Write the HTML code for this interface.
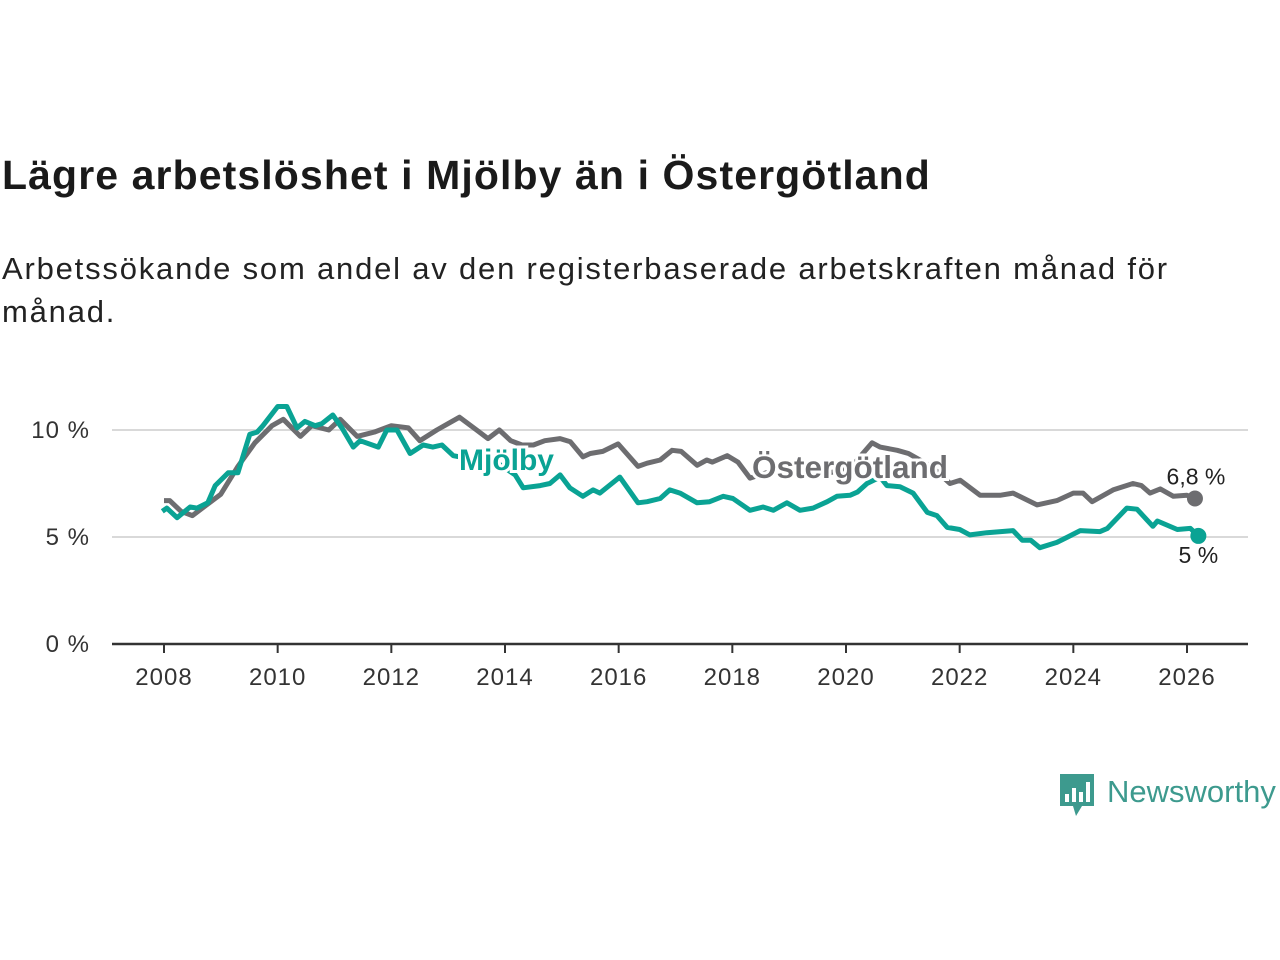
<!DOCTYPE html>
<html><head><meta charset="utf-8">
<style>
body{margin:0;background:#fff;width:1280px;height:960px;overflow:hidden;font-family:"Liberation Sans","DejaVu Sans",sans-serif}
#title{position:absolute;left:2px;top:152px;font-size:41px;font-weight:bold;color:#1a1a1a;margin:0;letter-spacing:1.1px}
#sub{position:absolute;left:2px;top:247px;font-size:31px;color:#222;line-height:43px;width:1260px;margin:0;letter-spacing:1.8px}
svg{position:absolute;left:0;top:0}
</style></head><body>
<h1 id="title">Lägre arbetslöshet i Mjölby än i Östergötland</h1>
<p id="sub">Arbetssökande som andel av den registerbaserade arbetskraften månad för<br>månad.</p>
<svg id="chart" width="1280" height="960"></svg>
<script>
const ostYears=[2008.0,2008.1,2008.3,2008.5,2009.0,2009.3,2009.6,2009.9,2010.1,2010.4,2010.6,2010.9,2011.1,2011.4,2011.7,2012.0,2012.3,2012.5,2012.8,2013.0,2013.2,2013.5,2013.7,2013.9,2014.1,2014.3,2014.5,2014.7,2014.97,2015.15,2015.37,2015.5,2015.72,2015.99,2016.34,2016.5,2016.73,2016.94,2017.1,2017.38,2017.55,2017.65,2017.91,2018.1,2018.31,2018.6,2019.0,2019.6,2020.1,2020.46,2020.6,2020.9,2021.1,2021.5,2021.83,2022.01,2022.36,2022.71,2022.94,2023.36,2023.71,2024.0,2024.17,2024.33,2024.7,2025.05,2025.2,2025.35,2025.53,2025.76,2026.0,2026.14];
const ostVals=[6.7,6.7,6.2,6.0,7.0,8.3,9.4,10.2,10.5,9.7,10.2,10.0,10.5,9.7,9.9,10.2,10.1,9.5,10.0,10.3,10.6,10.0,9.6,10.0,9.5,9.3,9.3,9.5,9.6,9.45,8.75,8.9,9.0,9.35,8.3,8.45,8.6,9.05,9.0,8.35,8.6,8.5,8.8,8.5,7.75,8.0,8.0,7.9,8.3,9.4,9.2,9.05,8.9,8.3,7.5,7.65,6.95,6.95,7.05,6.5,6.7,7.05,7.05,6.65,7.2,7.5,7.4,7.05,7.25,6.9,6.95,6.8];
const mjYears=[2007.97,2008.05,2008.23,2008.46,2008.58,2008.77,2008.9,2009.13,2009.3,2009.51,2009.64,2009.74,2010.0,2010.16,2010.34,2010.48,2010.66,2010.78,2010.97,2011.13,2011.33,2011.45,2011.77,2011.92,2012.1,2012.33,2012.56,2012.73,2012.89,2013.09,2013.5,2013.9,2014.18,2014.32,2014.62,2014.79,2014.97,2015.14,2015.37,2015.55,2015.67,2016.02,2016.34,2016.5,2016.73,2016.9,2017.08,2017.38,2017.6,2017.84,2018.01,2018.31,2018.54,2018.72,2018.96,2019.19,2019.42,2019.67,2019.84,2020.07,2020.2,2020.37,2020.6,2020.72,2020.95,2021.18,2021.43,2021.6,2021.78,2022.0,2022.18,2022.48,2022.94,2023.1,2023.25,2023.41,2023.71,2023.9,2024.12,2024.47,2024.6,2024.94,2025.12,2025.4,2025.48,2025.83,2026.06,2026.2];
const mjVals=[6.2,6.35,5.9,6.4,6.35,6.6,7.4,8.0,8.0,9.8,9.9,10.2,11.1,11.1,10.1,10.4,10.2,10.3,10.7,10.1,9.2,9.5,9.2,10.0,10.0,8.9,9.3,9.2,9.3,8.8,8.6,8.4,7.9,7.3,7.4,7.5,7.9,7.3,6.9,7.2,7.05,7.8,6.6,6.65,6.8,7.2,7.05,6.6,6.65,6.9,6.8,6.25,6.4,6.25,6.6,6.25,6.35,6.65,6.9,6.95,7.1,7.5,7.8,7.4,7.35,7.05,6.15,6.0,5.45,5.35,5.1,5.2,5.3,4.85,4.85,4.5,4.75,5.0,5.3,5.25,5.4,6.35,6.3,5.5,5.75,5.35,5.4,5.05];
const yTicks=[0,5,10];
const yTickLabels=["0 %","5 %","10 %"];
const xTicks=[2008,2010,2012,2014,2016,2018,2020,2022,2024,2026];
const NS="http://www.w3.org/2000/svg";
const svg=document.getElementById('chart');
const X=y=>164+(y-2008)*(1187-164)/18;
const Y=v=>644-v*21.4;
function mk(t,a){const e=document.createElementNS(NS,t);for(const k in a)e.setAttribute(k,a[k]);svg.appendChild(e);return e;}
yTicks.forEach((v,i)=>{
  if(v>0){const g=mk('line',{x1:112,x2:1248,y1:Y(v),y2:Y(v),stroke:'#d9d9d9','stroke-width':2});
  
  }
  const t=mk('text',{x:90,y:Y(v)+8,'text-anchor':'end','font-size':24,'letter-spacing':1,fill:'#333'});
  t.textContent=yTickLabels[i];
  
  
});
const ax=mk('line',{x1:112,x2:1248,y1:644,y2:644,stroke:'#333','stroke-width':2.5});


xTicks.forEach(yr=>{
  const tk=mk('line',{x1:X(yr),x2:X(yr),y1:644,y2:653,stroke:'#333','stroke-width':2});
  
  
  const t=mk('text',{x:X(yr),y:685,'text-anchor':'middle','font-size':24,'letter-spacing':1,fill:'#333'});
  t.textContent=yr;
  
  
});
function path(ys,vs){return ys.map((y,i)=>(i?'L':'M')+X(y).toFixed(1)+' '+Y(vs[i]).toFixed(1)).join(' ');}
const l1=mk('path',{d:path(ostYears,ostVals),fill:'none',stroke:'#6d6d70','stroke-width':5,'stroke-linejoin':'round'});


const l2=mk('path',{d:path(mjYears,mjVals),fill:'none',stroke:'#0aa394','stroke-width':5,'stroke-linejoin':'round'});


const oe=ostYears.length-1, me=mjYears.length-1;
const d1=mk('circle',{cx:X(ostYears[oe]),cy:Y(ostVals[oe]),r:8,fill:'#6d6d70'});


const d2=mk('circle',{cx:X(mjYears[me]),cy:Y(mjVals[me]),r:8,fill:'#0aa394'});


const e1=mk('text',{x:X(ostYears[oe])+1,y:Y(ostVals[oe])-14,'text-anchor':'middle','font-size':23,fill:'#222'});
e1.textContent=String(ostVals[oe]).replace('.',',')+' %';


const e2=mk('text',{x:X(mjYears[me]),y:Y(mjVals[me])+27,'text-anchor':'middle','font-size':23,fill:'#222'});
e2.textContent='5 %';


const s1=mk('text',{x:459,y:470,'font-size':30,'font-weight':'bold',fill:'#0aa394',stroke:'#fff','stroke-width':6,'paint-order':'stroke'});
s1.textContent='Mjölby';


const s2=mk('text',{x:752,y:478,'font-size':31.5,'font-weight':'bold',fill:'#6d6d70',stroke:'#fff','stroke-width':6,'paint-order':'stroke'});
s2.textContent='Östergötland';


</script>
<div style="position:absolute;left:1060px;top:774px;display:flex;align-items:center">
<svg width="36" height="44" viewBox="0 0 36 44" style="position:static"><path d="M0 0H34V32H22L16 42L13 32H0Z" fill="#3d9a8e"/><rect x="5" y="20" width="4" height="8" fill="#fff"/><rect x="12" y="14" width="4" height="14" fill="#fff"/><rect x="19" y="18" width="4" height="10" fill="#fff"/><rect x="26" y="8" width="4" height="20" fill="#fff"/></svg>
<span style="font-size:31px;color:#3d9a8e;margin-left:11px;margin-top:-8px">Newsworthy</span>
</div>
</body></html>
